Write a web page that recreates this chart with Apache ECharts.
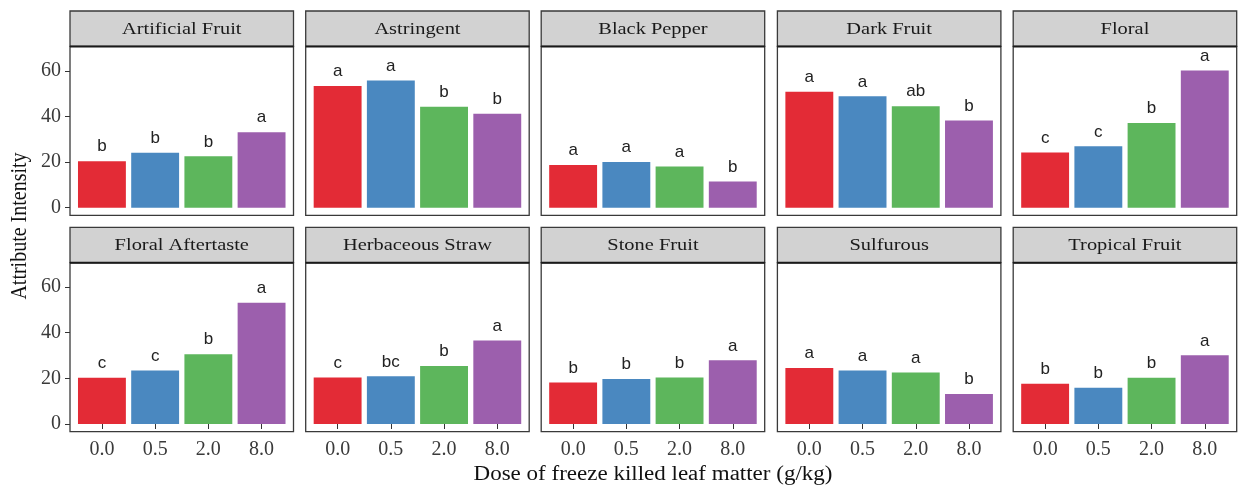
<!DOCTYPE html>
<html>
<head>
<meta charset="utf-8">
<script src="https://cdn.jsdelivr.net/npm/echarts@6/dist/echarts.min.js"></script>
<style>
html,body{margin:0;padding:0;background:#fff;}
#chart{width:1238px;height:489px;}
</style>
</head>
<body>
<div id="chart"></div>
<script>
// ---- data ----
const doses = ['0.0', '0.5', '2.0', '8.0'];
const attributes = ['Artificial Fruit', 'Astringent', 'Black Pepper', 'Dark Fruit', 'Floral',
  'Floral Aftertaste', 'Herbaceous Straw', 'Stone Fruit', 'Sulfurous', 'Tropical Fruit'];

const artificialFruit = [20.4, 24.1, 22.5, 33.1];
const astringent = [53.3, 55.8, 44.2, 41.2];
const blackPepper = [18.7, 20.0, 18.1, 11.5];
const darkFruit = [50.8, 48.8, 44.5, 38.2];
const floral = [24.2, 26.9, 37.1, 60.1];
const floralAftertaste = [20.3, 23.5, 30.6, 53.1];
const herbaceousStraw = [20.4, 20.9, 25.4, 36.6];
const stoneFruit = [18.2, 19.7, 20.4, 27.9];
const sulfurous = [24.5, 23.5, 22.6, 13.1];
const tropicalFruit = [17.6, 15.9, 20.3, 30.1];

const lettersArtificialFruit = ['b', 'b', 'b', 'a'];
const lettersAstringent = ['a', 'a', 'b', 'b'];
const lettersBlackPepper = ['a', 'a', 'a', 'b'];
const lettersDarkFruit = ['a', 'a', 'ab', 'b'];
const lettersFloral = ['c', 'c', 'b', 'a'];
const lettersFloralAftertaste = ['c', 'c', 'b', 'a'];
const lettersHerbaceousStraw = ['c', 'bc', 'b', 'a'];
const lettersStoneFruit = ['b', 'b', 'b', 'a'];
const lettersSulfurous = ['a', 'a', 'a', 'b'];
const lettersTropicalFruit = ['b', 'b', 'b', 'a'];

const yTicks = [0, 20, 40, 60];

const values = [artificialFruit, astringent, blackPepper, darkFruit, floral,
  floralAftertaste, herbaceousStraw, stoneFruit, sulfurous, tropicalFruit];
const letters = [lettersArtificialFruit, lettersAstringent, lettersBlackPepper, lettersDarkFruit, lettersFloral,
  lettersFloralAftertaste, lettersHerbaceousStraw, lettersStoneFruit, lettersSulfurous, lettersTropicalFruit];

// ---- styling / layout ----
const barColors = ['#E32B36', '#4A88C0', '#5DB65C', '#9C5FAD'];
const serif = "'Liberation Serif', 'DejaVu Serif', serif";
const sans = "'Liberation Sans', Arial, sans-serif";
const frameLefts = [70, 305.7, 541.2, 777.4, 1013.2];
const frameW = 223.5;
const headerTops = [11, 227.3];
const headerH = 35.4;
const plotH = 169;
const inset = frameW / 4.2 * 0.1;

const grids = [], xAxes = [], yAxes = [], series = [], graphics = [];

attributes.forEach((name, i) => {
  const row = Math.floor(i / 5), col = i % 5;
  const fl = frameLefts[col];
  const ht = headerTops[row];
  const pt = ht + headerH;
  grids.push({ left: fl + inset, width: frameW - 2 * inset, top: pt, height: plotH, containLabel: false });
  const bottomRow = row === 1;
  xAxes.push({
    gridIndex: i, type: 'category', data: doses,
    axisLine: { show: false },
    axisTick: { show: bottomRow, alignWithLabel: true, length: 5, lineStyle: { color: '#333', width: 1 } },
    axisLabel: { show: bottomRow, fontFamily: serif, fontSize: 20, color: '#3a3a3a', margin: 8 },
    splitLine: { show: false }
  });
  yAxes.push({
    gridIndex: i, type: 'value', min: -3.37, max: 70.7, offset: inset,
    axisLine: { show: false },
    axisTick: { show: col === 0, length: 5, customValues: yTicks, lineStyle: { color: '#333', width: 1 } },
    axisLabel: { show: col === 0, customValues: yTicks, fontFamily: serif, fontSize: 20, color: '#3a3a3a', margin: 9 },
    splitLine: { show: false }
  });
  series.push({
    type: 'bar', xAxisIndex: i, yAxisIndex: i,
    data: values[i],
    barWidth: '90%',
    itemStyle: { color: p => barColors[p.dataIndex] },
    label: {
      show: true, position: 'top', distance: 6,
      formatter: p => letters[i][p.dataIndex],
      fontFamily: sans, fontSize: 17, color: '#222'
    },
    silent: true, animation: false
  });
  // panel frame
  graphics.push({
    type: 'rect', shape: { x: fl, y: pt, width: frameW, height: plotH },
    style: { fill: null, stroke: '#3a3a3a', lineWidth: 1.3 }, z: 10
  });
  graphics.push({
    type: 'rect', shape: { x: fl, y: ht, width: frameW, height: headerH },
    style: { fill: '#d2d2d2', stroke: '#3a3a3a', lineWidth: 1.3 }, z: 10
  });
  graphics.push({
    type: 'line', shape: { x1: fl, y1: pt, x2: fl + frameW, y2: pt },
    style: { stroke: '#1a1a1a', lineWidth: 2 }, z: 11
  });
  graphics.push({
    type: 'text', x: fl + frameW / 2, y: ht + headerH / 2 + 1, z: 12, scaleX: 1.2,
    style: { text: name, fontFamily: serif, fontSize: 17, fill: '#1a1a1a', align: 'center', verticalAlign: 'middle' }
  });
});

graphics.push({
  type: 'text', x: 653, y: 475, z: 12, scaleX: 1.15,
  style: { text: 'Dose of freeze killed leaf matter (g/kg)', fontFamily: serif, fontSize: 20, fill: '#111', align: 'center', verticalAlign: 'middle' }
});
graphics.push({
  type: 'text', x: 20, y: 226, rotation: Math.PI / 2, z: 12, scaleY: 1.15,
  style: { text: 'Attribute Intensity', fontFamily: serif, fontSize: 20, fill: '#111', align: 'center', verticalAlign: 'middle' }
});

const chart = echarts.init(document.getElementById('chart'), null, { renderer: 'canvas' });
chart.setOption({
  animation: false,
  backgroundColor: '#fff',
  grid: grids,
  xAxis: xAxes,
  yAxis: yAxes,
  series: series,
  graphic: graphics
});
</script>
</body>
</html>
